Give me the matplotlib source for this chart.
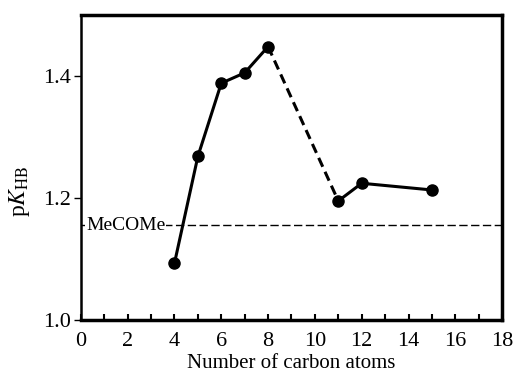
import numpy as np
import matplotlib.pyplot as plt

plt.rcParams['font.family'] = ['Liberation Serif', 'DejaVu Serif']
plt.rcParams['mathtext.fontset'] = 'stix'

# chain length vs pK_HB
carbons = [4, 5, 6, 7, 8, 11, 12, 15]
pkhb = [1.093, 1.268, 1.388, 1.405, 1.448, 1.195, 1.224, 1.213]
mecome = 1.155

fig = plt.figure(figsize=(5.15, 3.72), dpi=100)
ax = fig.add_axes([0.157, 0.140, 0.818, 0.820])

ax.axhline(mecome, color='black', lw=1.0, ls=(0, (6, 2.5)), zorder=1)
ax.text(0.22, mecome, 'MeCOMe', fontsize=14, va='center', ha='left',
        bbox=dict(facecolor='white', edgecolor='none', pad=0.5), zorder=2)

# solid parts and the dashed gap between 8 and 11
ax.plot(carbons[:5], pkhb[:5], color='black', lw=2.2, zorder=3)
ax.plot(carbons[4:6], pkhb[4:6], color='black', lw=2.2, ls=(0, (3.2, 1.8)), zorder=3)
ax.plot(carbons[5:], pkhb[5:], color='black', lw=2.2, zorder=3)
ax.plot(carbons, pkhb, 'o', color='black', ms=8, zorder=4)

ax.set_xlim(0, 18)
ax.set_ylim(1.0, 1.5)
ax.set_xticks(np.arange(0, 19, 2))
ax.set_xticks(np.arange(0, 19, 1), minor=True)
ax.set_yticks([1.0, 1.2, 1.4])
ax.set_yticklabels(['1.0', '1.2', '1.4'])

ax.tick_params(axis='x', which='both', direction='in', length=4, width=1.5, labelsize=16, pad=9)
ax.tick_params(axis='y', which='both', direction='out', length=5, width=1.0, labelsize=16, pad=2)

for side in ['top', 'right', 'bottom']:
    ax.spines[side].set_linewidth(2.5)
ax.spines['left'].set_linewidth(1.8)

ax.set_xlabel('Number of carbon atoms', fontsize=15, labelpad=2)
ax.set_ylabel(r'p$K_{\mathrm{HB}}$', fontsize=17)
ax.yaxis.set_label_coords(-0.115, 0.42)

fig.savefig('out.png', dpi=100)
